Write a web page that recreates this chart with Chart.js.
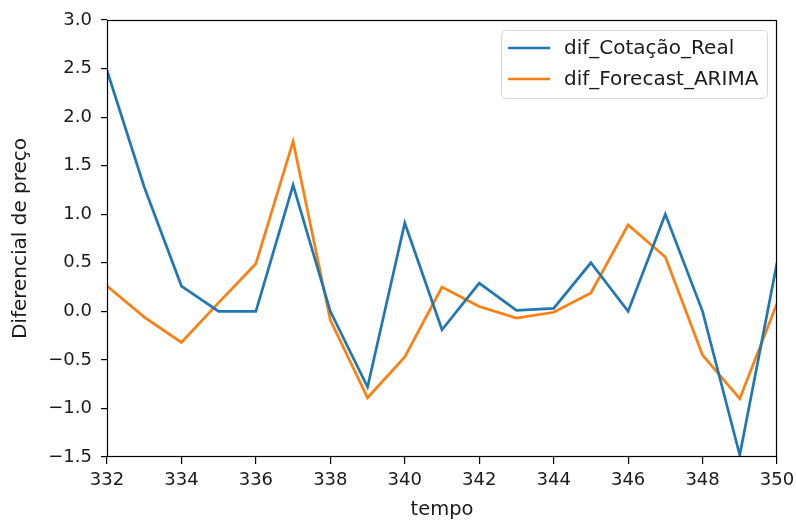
<!DOCTYPE html>
<html>
<head>
<meta charset="utf-8">
<script src="https://cdn.jsdelivr.net/npm/chart.js@4/dist/chart.umd.min.js"></script>
<style>
  html, body { margin: 0; padding: 0; background: #fff; }
  #wrap { width: 796px; height: 520px; }
</style>
</head>
<body>
<div id="wrap"><canvas id="c" width="796" height="520"></canvas></div>
<script>
// time index (tempo)
const tempo = [332, 333, 334, 335, 336, 337, 338, 339, 340, 341, 342, 343, 344, 345, 346, 347, 348, 349, 350];
// observed price difference
const difCotacaoReal = [2.48, 1.28, 0.26, 0.0, 0.0, 1.30, 0.0, -0.78, 0.91, -0.19, 0.29, 0.01, 0.03, 0.50, 0.0, 1.0, 0.0, -1.48, 0.50];
// ARIMA forecast difference
const difForecastArima = [0.26, -0.06, -0.32, 0.09, 0.49, 1.75, -0.09, -0.89, -0.47, 0.25, 0.05, -0.07, -0.01, 0.19, 0.89, 0.56, -0.45, -0.90, 0.08];
const xTicks = [332, 334, 336, 338, 340, 342, 344, 346, 348, 350];
const yTicks = [-1.5, -1.0, -0.5, 0.0, 0.5, 1.0, 1.5, 2.0, 2.5, 3.0];

const FONT = "'DejaVu Sans', 'Liberation Sans', sans-serif";
const TEXT = '#1a1a1a';

const toPoints = (vals) => tempo.map((t, i) => ({ x: t, y: vals[i] }));

// frame around the plot area (all four spines)
const framePlugin = {
  id: 'frame',
  afterDatasetsDraw(chart) {
    const { ctx, chartArea: a } = chart;
    ctx.save();
    ctx.strokeStyle = '#000';
    ctx.lineWidth = 1.2;
    ctx.strokeRect(Math.round(a.left) + 0.5, Math.round(a.top) + 0.5,
                   Math.round(a.right - a.left) - 1, Math.round(a.bottom - a.top) - 1);
    ctx.restore();
  }
};

// boxed legend in the upper right corner
const boxLegendPlugin = {
  id: 'boxLegend',
  afterDraw(chart) {
    const { ctx, chartArea: a } = chart;
    const w = 266, h = 68;
    const x0 = a.right - 10 - w, y0 = a.top + 10;
    ctx.save();
    ctx.beginPath();
    ctx.roundRect(x0 + 0.5, y0 + 0.5, w, h, 4);
    ctx.fillStyle = 'rgba(255,255,255,0.85)';
    ctx.fill();
    ctx.strokeStyle = '#d6d6d6';
    ctx.lineWidth = 1;
    ctx.stroke();
    ctx.font = '20px ' + FONT;
    ctx.textBaseline = 'middle';
    chart.data.datasets.forEach((ds, i) => {
      const y = y0 + 18 + i * 31;
      ctx.beginPath();
      ctx.moveTo(x0 + 7, y);
      ctx.lineTo(x0 + 49, y);
      ctx.strokeStyle = ds.borderColor;
      ctx.lineWidth = 2.7;
      ctx.stroke();
      ctx.fillStyle = TEXT;
      ctx.fillText(ds.label, x0 + 63, y + 1);
    });
    ctx.restore();
  }
};

new Chart(document.getElementById('c'), {
  type: 'line',
  data: {
    datasets: [
      { label: 'dif_Cotação_Real', data: toPoints(difCotacaoReal), borderColor: '#1f77b4', borderWidth: 2.7, pointRadius: 0, tension: 0, fill: false },
      { label: 'dif_Forecast_ARIMA', data: toPoints(difForecastArima), borderColor: '#ff7f0e', borderWidth: 2.7, pointRadius: 0, tension: 0, fill: false }
    ]
  },
  options: {
    responsive: false,
    animation: false,
    layout: { padding: { left: 0, right: 19, top: 20, bottom: 0 } },
    plugins: { legend: { display: false }, tooltip: { enabled: false } },
    scales: {
      x: {
        type: 'linear',
        min: 332, max: 350,
        afterBuildTicks(scale) { scale.ticks = xTicks.map(v => ({ value: v })); },
        afterFit(scale) { scale.height = 63; scale.paddingLeft = 0; scale.paddingRight = 0; },
        grid: { display: true, drawOnChartArea: false, drawTicks: true, tickLength: 7, color: '#000', lineWidth: 1.2 },
        border: { display: false },
        ticks: { color: TEXT, font: { family: FONT, size: 18 }, padding: 6, maxRotation: 0, autoSkip: false },
        title: { display: true, text: 'tempo', color: TEXT, font: { family: FONT, size: 19.5 }, padding: { top: 0, bottom: -2 } }
      },
      y: {
        min: -1.5, max: 3.0,
        afterBuildTicks(scale) { scale.ticks = yTicks.map(v => ({ value: v })); },
        afterFit(scale) { scale.width = 107; scale.paddingTop = 0; scale.paddingBottom = 0; },
        grid: { display: true, drawOnChartArea: false, drawTicks: true, tickLength: 6, color: '#000', lineWidth: 1.2 },
        border: { display: false },
        ticks: {
          color: TEXT, font: { family: FONT, size: 18 }, padding: 9, autoSkip: false,
          callback: (v) => (v < 0 ? '\u2212' : '') + Math.abs(v).toFixed(1)
        },
        title: { display: true, text: 'Diferencial de preço', color: TEXT, font: { family: FONT, size: 20 }, padding: { top: 9, bottom: 0 } }
      }
    }
  },
  plugins: [framePlugin, boxLegendPlugin]
});
</script>
</body>
</html>
